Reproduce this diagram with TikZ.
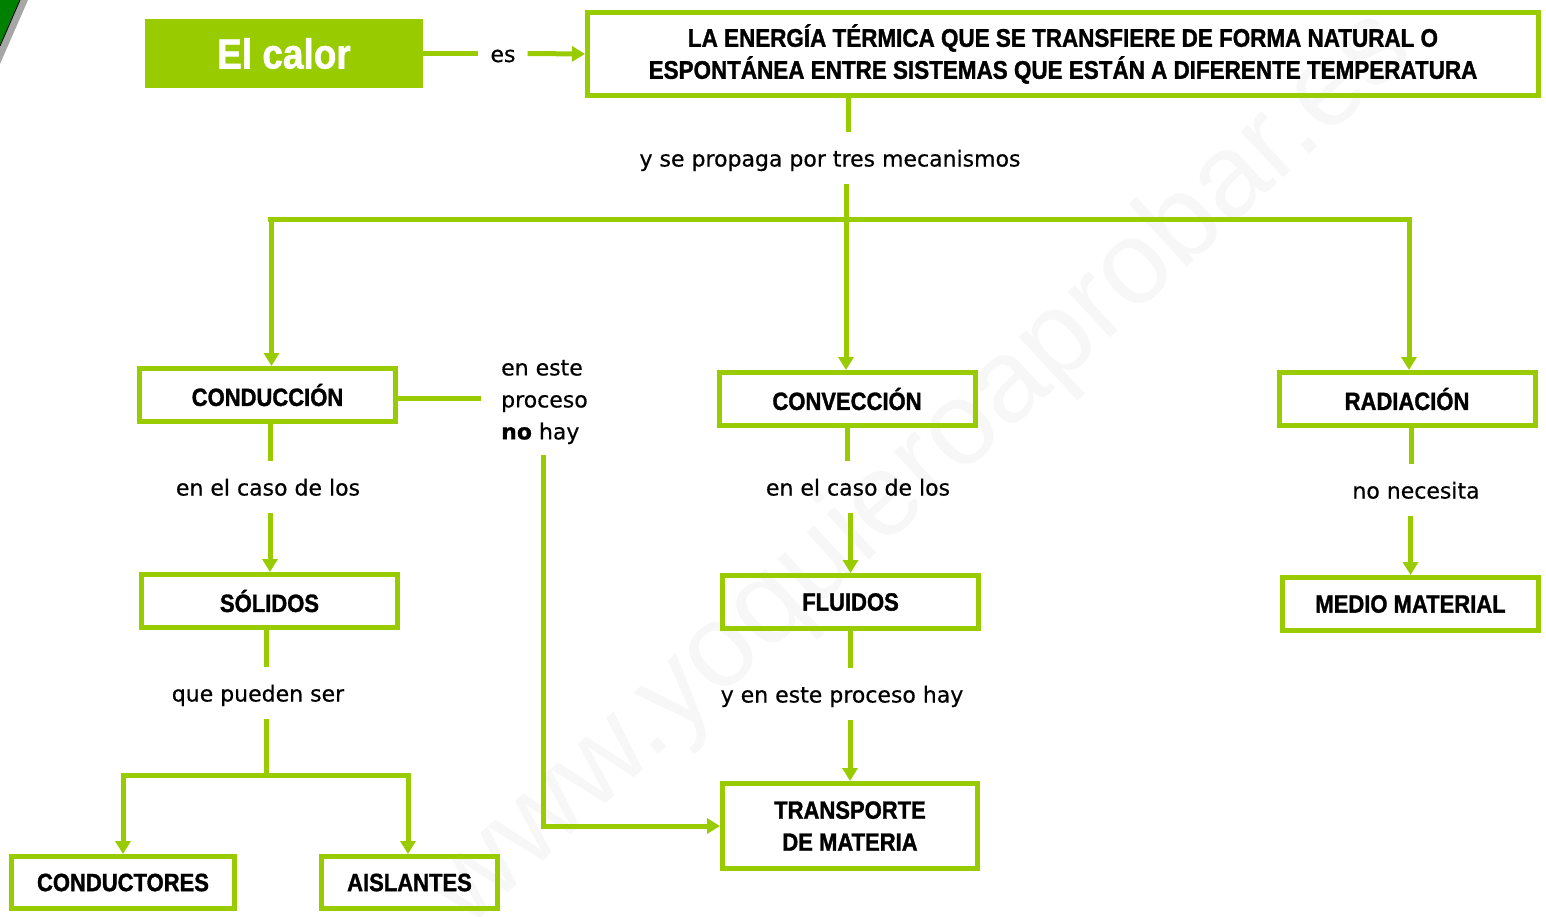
\documentclass[tikz,border=0pt]{standalone}
\usepackage{fontspec}
\setmainfont{DejaVu Sans}[FakeBold=0.5]
\newfontfamily\boxfont{Liberation Sans}[FakeStretch=0.88, BoldFeatures={FakeBold=1.3}]
\newfontfamily\markfont{Liberation Sans}
\usetikzlibrary{shapes,arrows,arrows.meta,positioning,calc}
\definecolor{leafgreen}{RGB}{153,204,0}
\definecolor{darkleaf}{RGB}{0,128,0}

\begin{document}
\begin{tikzpicture}[x=1pt, y=-1pt,
        box/.style={rectangle, draw=leafgreen, line width=5pt, minimum width=256pt, minimum height=53pt, align=center, font=\boxfont\bfseries\fontsize{25}{32}\selectfont},
        lbl/.style={inner xsep=12pt, inner ysep=15pt, text height=19pt, text depth=2pt, font=\fontsize{22}{32}\selectfont},
        link/.style={draw=leafgreen, line width=5pt},
        arrow/.style={link, -{Triangle[length=13pt, width=15pt]}}]

        \useasboundingbox (0,0) rectangle (1546,916);

        % watermark and corner
        \node[rotate=42.7, text=gray!6, font=\markfont\fontsize{118}{118}\selectfont] (WMARK) at (922,470) {www.yoquieroaprobar.es};
        \fill[gray!70] (0,0) -- (28,0) -- (0,64) -- cycle;
        \fill[darkleaf] (0,0) -- (20,0) -- (0,46) -- cycle;
        \draw[black, line width=0.8pt] (20,0) -- (0,46);

        % top row
        \node[rectangle, fill=leafgreen, minimum width=278pt, minimum height=69pt, text=white, font=\boxfont\bfseries\fontsize{42}{42}\selectfont] (CALOR) at (284,53.5) {El calor};
        \node[lbl] (ES) at (503,53.5) {es};
        \node[box, minimum width=951pt, minimum height=83pt, font=\boxfont\bfseries\fontsize{25.5}{32}\selectfont] (DEF) at (1063,54) {LA ENERGÍA TÉRMICA QUE SE TRANSFIERE DE FORMA NATURAL O\\ESPONTÁNEA ENTRE SISTEMAS QUE ESTÁN A DIFERENTE TEMPERATURA};
        \node[lbl] (PROP) at (830,158) {y se propaga por tres mecanismos};
        \coordinate (SPLIT1) at (846,219);

        % mechanisms
        \node[box] (CONDUC) at (267.5,395) {CONDUCCIÓN};
        \node[box] (CONVEC) at (847,399) {CONVECCIÓN};
        \node[box] (RADIA) at (1407,399) {RADIACIÓN};
        \node[lbl, inner sep=0pt, text height=, text depth=, align=left, anchor=west] (NOHAY) at (501,402) {en este\\proceso\\\textbf{no} hay};
        \coordinate (NOHAYDOWN) at (543,455);

        % second level
        \node[lbl] (CASO1) at (268,487) {en el caso de los};
        \node[lbl] (CASO2) at (858,487) {en el caso de los};
        \node[lbl] (NECES) at (1416,490) {no necesita};
        \node[box] (SOLID) at (269.5,601) {SÓLIDOS};
        \node[box] (FLUID) at (850.5,602) {FLUIDOS};
        \node[box] (MEDIO) at (1410.5,604) {MEDIO MATERIAL};

        % third level
        \node[lbl] (PUEDEN) at (258,693) {que pueden ser};
        \node[lbl] (HAY) at (842,694) {y en este proceso hay};
        \coordinate (SPLIT2) at (266,775);
        \node[box, minimum width=223pt, minimum height=52pt] (CONDUCT) at (123,882.5) {CONDUCTORES};
        \node[box, minimum width=176pt, minimum height=52pt] (AISL) at (409.5,882.5) {AISLANTES};
        \node[box, minimum width=255pt, minimum height=85pt] (TRANSP) at (850,826) {TRANSPORTE\\DE MATERIA};

        % connectors
        \draw[link] (CALOR.east) -- (ES.west);
        \draw[arrow] (ES.east) -- (DEF.west);
        \draw[link] (PROP.north -| SPLIT1) ++(2,0) coordinate (TOPDROP) (DEF.south -| TOPDROP) -- (TOPDROP);
        \draw[link] (PROP.south -| SPLIT1) -- (SPLIT1);
        \draw[link] (CONDUC.north |- SPLIT1) -- (RADIA.north |- SPLIT1);
        \draw[arrow] (SPLIT1) -| ([xshift=4pt]CONDUC.north);
        \draw[arrow] (SPLIT1) -- (CONVEC.north -| SPLIT1);
        \draw[arrow] (SPLIT1) -| ([xshift=2pt]RADIA.north);

        \draw[link] ([yshift=-3pt]CONDUC.east) -- ([xshift=-20pt,yshift=-3pt]NOHAY.west |- CONDUC.east);
        \draw[arrow] (NOHAYDOWN) |- (TRANSP.west);

        \draw[link] ([xshift=2.5pt]CONDUC.south) -- ([xshift=2.5pt]CONDUC.south |- CASO1.north);
        \draw[arrow] ([xshift=2.5pt]CONDUC.south |- CASO1.south) -- ([xshift=0.5pt]SOLID.north);
        \draw[link] (CONVEC.south) -- (CONVEC.south |- CASO2.north);
        \draw[arrow] (FLUID.north |- CASO2.south) -- (FLUID.north);
        \draw[link] ([xshift=4pt]RADIA.south) -- ([xshift=4pt]RADIA.south |- NECES.north);
        \draw[arrow] (MEDIO.north |- NECES.south) -- (MEDIO.north);

        \draw[link] ([xshift=-3.5pt]SOLID.south) -- (SPLIT2 |- PUEDEN.north);
        \draw[link] (SPLIT2 |- PUEDEN.south) -- (SPLIT2);
        \draw[arrow] (SPLIT2) -| (CONDUCT.north);
        \draw[arrow] (SPLIT2) -| ([xshift=-1.5pt]AISL.north);
        \draw[link] (FLUID.south) -- (FLUID.south |- HAY.north);
        \draw[arrow] (TRANSP.north |- HAY.south) -- (TRANSP.north);

    \end{tikzpicture}
\end{document}
